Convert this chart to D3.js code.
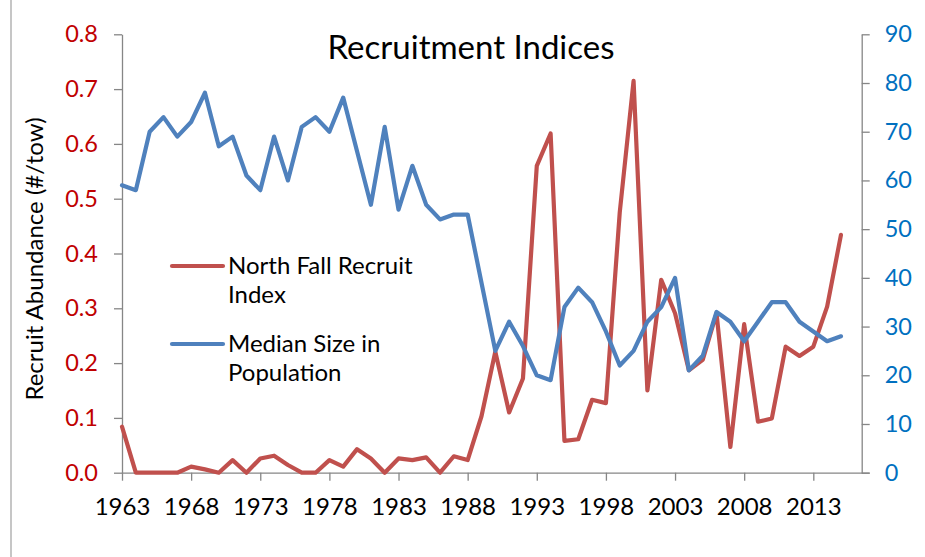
<!DOCTYPE html>
<html>
<head>
<meta charset="utf-8">
<script src="https://cdn.jsdelivr.net/npm/d3@7"></script>
<style>
  body { margin: 0; background: #fff; }
  svg { display: block; font-family: Lato, "Open Sans", sans-serif; }
</style>
</head>
<body>
<div id="chart"></div>
<script>
const SVG_WIDTH = 925;
const SVG_HEIGHT = 557;

// years 1963 .. 2015
const years = d3.range(1963, 2016);

// North Fall Recruit Index (left axis, #/tow)
const recruitIndex = [
  0.084, 0, 0, 0, 0, 0.011, 0.006, 0, 0.023, 0,
  0.026, 0.031, 0.014, 0, 0, 0.023, 0.011, 0.043, 0.026, 0,
  0.026, 0.023, 0.028, 0, 0.030, 0.023, 0.103, 0.221, 0.110, 0.172,
  0.560, 0.619, 0.058, 0.061, 0.133, 0.127, 0.475, 0.715, 0.150, 0.352,
  0.291, 0.187, 0.206, 0.291, 0.047, 0.271, 0.093, 0.099, 0.230, 0.213,
  0.230, 0.303, 0.434
];

// Median Size in Population (right axis)
const medianSize = [
  59, 58, 70, 73, 69, 72, 78, 67, 69, 61,
  58, 69, 60, 71, 73, 70, 77, 66, 55, 71,
  54, 63, 55, 52, 53, 53, 39, 25, 31, 26,
  20, 19, 34, 38, 35, 29, 22, 25, 31, 34,
  40, 21, 24, 33, 31, 27, 31, 35, 35, 31,
  29, 27, 28
];

const leftTicks = [0, 0.1, 0.2, 0.3, 0.4, 0.5, 0.6, 0.7, 0.8];
const rightTicks = [0, 10, 20, 30, 40, 50, 60, 70, 80, 90];
const yearTicks = [1963, 1968, 1973, 1978, 1983, 1988, 1993, 1998, 2003, 2008, 2013];

const seriesNames = [["North Fall Recruit", "Index"], ["Median Size in", "Population"]];

const RED = "#C0504D", BLUE = "#4F81BD";
const AXIS_GREY = "#868686";

var svg = d3.select("#chart").append("svg")
    .attr("width", SVG_WIDTH)
    .attr("height", SVG_HEIGHT);

// plot box
var plotLeft = 122, plotRight = 861.7, plotTop = 34.3, plotBottom = 472.7;

var x = d3.scaleLinear().domain([1963, 2016.5]).range([plotLeft, plotRight]);
var yLeft = d3.scaleLinear().domain([0, 0.8]).range([plotBottom, plotTop]);
var yRight = d3.scaleLinear().domain([0, 90]).range([plotBottom, plotTop]);

// chart area border on the left
svg.append("line")
    .attr("x1", 11).attr("x2", 11)
    .attr("y1", 0).attr("y2", SVG_HEIGHT)
    .attr("stroke", "#a0a0a0").attr("stroke-width", 1.2);

////////// axes //////////

function styleAxis(g, size) {
    g.select(".domain").attr("stroke", AXIS_GREY).attr("stroke-width", 1.3);
    g.selectAll(".tick line").attr("stroke", AXIS_GREY).attr("stroke-width", 1.3);
    g.selectAll("text").attr("font-size", size).attr("font-family", "Lato, sans-serif");
}

var gLeft = svg.append("g")
    .attr("transform", "translate(" + plotLeft + ",0)")
    .call(d3.axisLeft(yLeft).tickValues(leftTicks).tickFormat(d3.format(".1f"))
        .tickSizeInner(8).tickSizeOuter(0).tickPadding(16));
styleAxis(gLeft, 23.5);
gLeft.selectAll("text").attr("fill", "#C00000");

var gRight = svg.append("g")
    .attr("transform", "translate(" + plotRight + ",0)")
    .call(d3.axisRight(yRight).tickValues(rightTicks)
        .tickSizeInner(8).tickSizeOuter(0).tickPadding(15));
styleAxis(gRight, 23.5);
gRight.selectAll("text").attr("fill", "#0070C0");

var gBottom = svg.append("g")
    .attr("transform", "translate(0," + plotBottom + ")")
    .call(d3.axisBottom(x).tickValues(yearTicks).tickFormat(d3.format("d"))
        .tickSizeInner(8).tickSizeOuter(0).tickPadding(17));
styleAxis(gBottom, 24);
gBottom.selectAll("text").attr("fill", "#000");
gBottom.select(".domain").attr("d", "M" + plotLeft + ",0.5H" + (plotRight + 8));

////////// lines //////////

var redLine = d3.line()
    .x(function(d, i) { return x(years[i]); })
    .y(function(d) { return yLeft(d); });

var blueLine = d3.line()
    .x(function(d, i) { return x(years[i]); })
    .y(function(d) { return yRight(d); });

svg.append("path")
    .datum(recruitIndex)
    .attr("d", redLine)
    .attr("fill", "none")
    .attr("stroke", RED)
    .attr("stroke-width", 4.2)
    .attr("stroke-linejoin", "round")
    .attr("stroke-linecap", "round");

svg.append("path")
    .datum(medianSize)
    .attr("d", blueLine)
    .attr("fill", "none")
    .attr("stroke", BLUE)
    .attr("stroke-width", 4.2)
    .attr("stroke-linejoin", "round")
    .attr("stroke-linecap", "round");

////////// title //////////

svg.append("text")
    .attr("x", 471)
    .attr("y", 59)
    .attr("text-anchor", "middle")
    .attr("font-size", 33)
    .attr("fill", "#000")
    .text("Recruitment Indices");

// y axis title
svg.append("text")
    .attr("transform", "translate(43,259) rotate(-90)")
    .attr("text-anchor", "middle")
    .attr("font-size", 24)
    .attr("fill", "#000")
    .text("Recruit Abundance (#/tow)");

////////// legend //////////

var legend = svg.append("g").attr("transform", "translate(172,266)");
var legendItems = legend.selectAll("g")
    .data(seriesNames)
    .enter()
    .append("g")
    .attr("transform", function(d, i) { return "translate(0," + (i * 78) + ")"; });

legendItems.append("line")
    .attr("x1", 0).attr("x2", 51)
    .attr("y1", 0).attr("y2", 0)
    .attr("stroke", function(d, i) { return i == 0 ? RED : BLUE; })
    .attr("stroke-width", 4.2)
    .attr("stroke-linecap", "round");

legendItems.append("text")
    .attr("x", 56)
    .attr("y", 8)
    .attr("font-size", 24)
    .attr("fill", "#000")
    .selectAll("tspan")
    .data(function(d) { return d; })
    .enter()
    .append("tspan")
    .attr("x", 56)
    .attr("dy", function(d, i) { return i == 0 ? 0 : 29; })
    .text(function(d) { return d; });
</script>
</body>
</html>
